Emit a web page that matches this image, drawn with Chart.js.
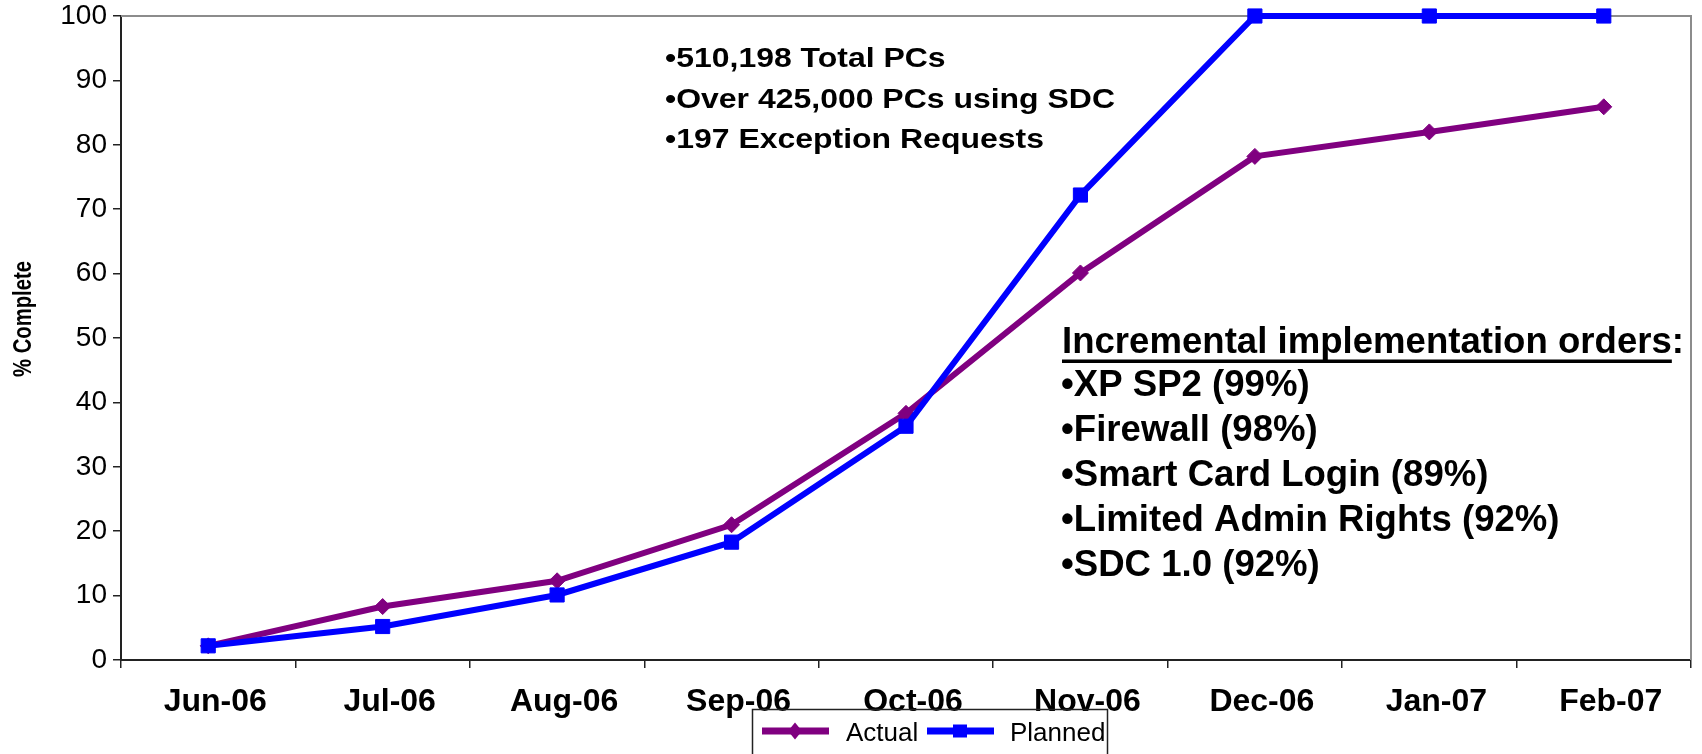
<!DOCTYPE html>
<html><head><meta charset="utf-8">
<script src="https://cdn.jsdelivr.net/npm/chart.js@4.4.1/dist/chart.umd.min.js"></script>
<style>html,body{margin:0;padding:0;background:#fff;overflow:hidden;}</style>
</head><body><canvas id="c" width="1702" height="754"></canvas>
<script>
const categories = ['Jun-06','Jul-06','Aug-06','Sep-06','Oct-06','Nov-06','Dec-06','Jan-07','Feb-07'];
const actualValues = [2.2, 8.3, 12.3, 21.0, 38.3, 60.1, 78.2, 82.0, 85.9];
const plannedValues = [2.2, 5.2, 10.1, 18.3, 36.3, 72.2, 100, 100, 100];
const seriesNames = ['Actual', 'Planned'];
const seriesColors = ['#800080', '#0000ff'];
const yMin = 0, yMax = 100, yStep = 10;
const yTitle = '% Complete';
const noteLines = ['•510,198 Total PCs', '•Over 425,000 PCs using SDC', '•197 Exception Requests'];
const ordersHeading = 'Incremental implementation orders';
const ordersLines = ['•XP SP2 (99%)', '•Firewall (98%)', '•Smart Card Login (89%)', '•Limited Admin Rights (92%)', '•SDC 1.0 (92%)'];

const FAM = '"Liberation Sans", Arial, Helvetica, sans-serif';

function stretchText(ctx, text, x, y, sx) {
  ctx.save(); ctx.translate(x, y); ctx.scale(sx, 1); ctx.fillText(text, 0, 0); ctx.restore();
}

const deco = {
  id: 'deco',
  beforeDatasetsDraw(chart) {
    const { ctx, chartArea: a } = chart;
    ctx.save();
    ctx.strokeStyle = '#8c8c8c'; ctx.lineWidth = 2;
    ctx.beginPath(); ctx.moveTo(a.left, a.top); ctx.lineTo(a.right, a.top); ctx.lineTo(a.right, a.bottom); ctx.stroke();
    ctx.restore();
  },
  afterDraw(chart) {
    const ctx = chart.ctx;
    ctx.save();
    ctx.fillStyle = '#000'; ctx.textBaseline = 'alphabetic'; ctx.textAlign = 'left';
    // y axis title
    ctx.save();
    ctx.font = 'bold 25px ' + FAM;
    const tsx = 116 / ctx.measureText(yTitle).width;
    ctx.translate(24, 319); ctx.rotate(-Math.PI / 2); ctx.scale(tsx, 1);
    ctx.textAlign = 'center'; ctx.textBaseline = 'middle';
    ctx.fillText(yTitle, 0, 0);
    ctx.restore();
    // note block
    ctx.font = 'bold 27px ' + FAM;
    let sx = 450 / ctx.measureText(noteLines[1]).width;
    noteLines.forEach((t, i) => stretchText(ctx, t, 665, 67 + i * 40.5, sx));
    // orders block
    ctx.font = 'bold 37px ' + FAM;
    sx = 622 / ctx.measureText(ordersHeading + ':').width;
    stretchText(ctx, ordersHeading + ':', 1062, 353, sx);
    const uw = ctx.measureText(ordersHeading).width * sx;
    ctx.fillRect(1062, 359.5, uw, 3.5);
    ordersLines.forEach((t, i) => stretchText(ctx, t, 1061, 396 + i * 45, sx));
    // legend
    ctx.strokeStyle = '#222'; ctx.lineWidth = 1.5;
    ctx.strokeRect(752.5, 709.5, 355, 60);
    const items = [{x: 762, tx: 846, style: 'diamond'}, {x: 927, tx: 1010, style: 'square'}];
    ctx.font = '26px ' + FAM;
    items.forEach((it, i) => {
      const col = seriesColors[i], y = 731;
      ctx.strokeStyle = col; ctx.fillStyle = col; ctx.lineWidth = 7;
      ctx.beginPath(); ctx.moveTo(it.x, y); ctx.lineTo(it.x + 67, y); ctx.stroke();
      const cx = it.x + 33;
      ctx.beginPath();
      if (it.style === 'diamond') {
        ctx.moveTo(cx, y - 8.5); ctx.lineTo(cx + 7, y); ctx.lineTo(cx, y + 8.5); ctx.lineTo(cx - 7, y); ctx.closePath();
      } else {
        ctx.rect(cx - 7, y - 6.5, 14, 13);
      }
      ctx.fill();
      ctx.fillStyle = '#000';
      ctx.fillText(seriesNames[i], it.tx, 741);
    });
    ctx.restore();
  }
};

new Chart(document.getElementById('c'), {
  type: 'line',
  data: {
    labels: categories,
    datasets: [
      { label: seriesNames[0], data: actualValues, borderColor: seriesColors[0], backgroundColor: seriesColors[0],
        borderWidth: 6, pointStyle: 'rectRot', pointRadius: 8, pointHoverRadius: 8, pointBorderWidth: 1,
        tension: 0, clip: false, order: 1 },
      { label: seriesNames[1], data: plannedValues, borderColor: seriesColors[1], backgroundColor: seriesColors[1],
        borderWidth: 6, pointStyle: 'rect', pointRadius: 10, pointHoverRadius: 10, pointBorderWidth: 1,
        tension: 0, clip: false, order: 0 }
    ]
  },
  options: {
    responsive: false,
    animation: false,
    devicePixelRatio: 1,
    events: [],
    layout: { padding: { top: 16, right: 11, left: 0, bottom: 0 } },
    plugins: { legend: { display: false }, tooltip: { enabled: false } },
    scales: {
      x: {
        type: 'category', offset: true,
        grid: { offset: true, drawOnChartArea: false, tickLength: 8, color: '#222', lineWidth: 1.5 },
        border: { color: '#222', width: 2 },
        ticks: { font: { family: FAM, size: 32, weight: 'bold' }, color: '#000', padding: 15, labelOffset: 7, maxRotation: 0, autoSkip: false },
        afterFit(s) { s.height = 94; s.paddingLeft = 0; s.paddingRight = 0; }
      },
      y: {
        min: yMin, max: yMax,
        grid: { drawOnChartArea: false, tickLength: 8, color: '#222', lineWidth: 1.5 },
        border: { color: '#222', width: 2 },
        ticks: { stepSize: yStep, font: { family: FAM, size: 28 }, color: '#000', padding: 6 },
        title: { display: false },
        afterFit(s) { s.width = 121; s.paddingTop = 0; s.paddingBottom = 0; }
      }
    }
  },
  plugins: [deco]
});
</script>
</body></html>
